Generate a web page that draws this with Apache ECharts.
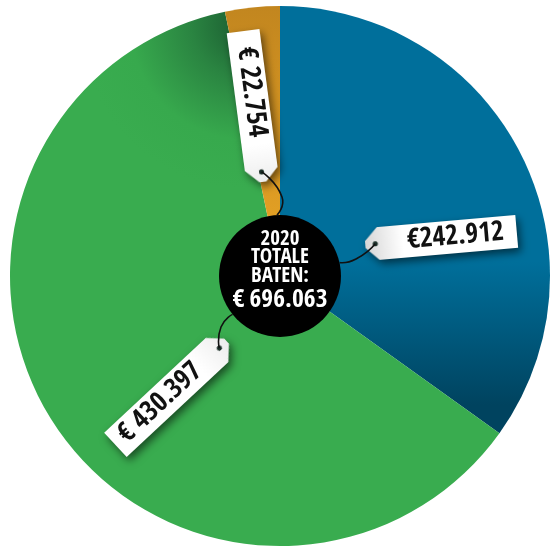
<!DOCTYPE html>
<html>
<head>
<meta charset="utf-8">
<script src="https://cdn.jsdelivr.net/npm/echarts@6/dist/echarts.min.js"></script>
<style>
html,body{margin:0;padding:0;background:#ffffff;}
#chart{width:550px;height:547px;}
</style>
</head>
<body>
<div id="chart"></div>
<script>
// ---- data ----
const categories = ['Baten (blauw)', 'Baten (groen)', 'Baten (oranje)'];
const values = [242912, 430397, 22754];
const tagLabels = ['€242.912', '€ 430.397', '€ 22.754'];
const centerLines = ['2020', 'TOTALE', 'BATEN:'];
const currency = '€';

// ---- layout / style ----
const CX = 280, CY = 276, R = 270, R0 = 61;
const TAG_W = 152, TAG_H = 33, HOLE = 66;
const tagLayout = [
  { dx: 161, dy: -38, rotate: 5, tipRight: false, strA: 12.7, mid: [76, -17] },
  { dx: -109, dy: 117, rotate: 43, tipRight: true, strA: 219, mid: [-59, 51] },
  { dx: -27, dy: -169.5, rotate: -82.5, tipRight: true, strA: 92.8, mid: [2, -79] }
];

// pick a condensed font that is installed
const mctx = document.createElement('canvas').getContext('2d');
function measure(font, text) {
  mctx.font = '10px serif';
  mctx.font = font;
  if (mctx.font === '10px serif') return null;
  return mctx.measureText(text).width;
}
const SAMPLE = '€ 430.397 TOTALE BATEN 2020';
function pickFont() {
  const mono = measure('500 40px monospace', SAMPLE);
  const cands = [
    { st: 'normal', fam: "'Liberation Sans Narrow'" },
    { st: 'normal', fam: "'Noto Sans Condensed'" },
    { st: 'condensed', fam: "'Noto Sans'" },
    { st: 'normal', fam: "'Open Sans Condensed'" },
    { st: 'condensed', fam: "'Open Sans'" },
    { st: 'normal', fam: "'Roboto Condensed'" },
    { st: 'normal', fam: "'DejaVu Sans Condensed'" },
    { st: 'condensed', fam: "'DejaVu Sans'" }
  ];
  for (const c of cands) {
    const w = measure(c.st + ' 500 40px ' + c.fam + ', monospace', SAMPLE);
    if (w == null || Math.abs(w - mono) < 0.5) continue;
    if (c.st !== 'normal') {
      const wn = measure('normal 500 40px ' + c.fam + ', monospace', SAMPLE);
      if (wn == null || w > wn * 0.95) continue;
    }
    return { style: c.st, family: c.fam + ", 'Liberation Sans', sans-serif" };
  }
  return { style: 'normal', family: "'Liberation Sans', sans-serif" };
}
const F = pickFont();
function fitSize(text, weight, target, maxSize) {
  const w = measure(F.style + ' ' + weight + ' 100px ' + F.family, text) || 100;
  return Math.min(maxSize, 100 * target / w);
}

const total = values.reduce((a, b) => a + b, 0);
const totalText = currency + '\u2009' + total.toLocaleString('de-DE');

const tagSize = fitSize(tagLabels[0], 'normal', 97, 28);
const smallSize = fitSize(centerLines[1], '600', 59, 21);
const bigSize = fitSize(totalText, '600', 95, 28);

const fills = [
  { type: 'linear', x: 0, y: 262, x2: 0, y2: 405, global: true,
    colorStops: [{ offset: 0, color: '#006f9b' }, { offset: 1, color: '#00435f' }] },
  { type: 'radial', x: 246, y: 24, r: 165, global: true,
    colorStops: [{ offset: 0, color: '#1a5a30' }, { offset: 0.33, color: '#2a8441' }, { offset: 0.7, color: '#37a94d' }, { offset: 1, color: '#39ac4f' }] },
  { type: 'linear', x: 0, y: 5, x2: 0, y2: 270, global: true,
    colorStops: [{ offset: 0, color: '#c2861f' }, { offset: 1, color: '#e9a525' }] }
];

function makeTag(tipRight) {
  const c = document.createElement('canvas');
  c.width = TAG_W; c.height = TAG_H;
  const g = c.getContext('2d');
  g.save();
  if (!tipRight) { g.translate(TAG_W, 0); g.scale(-1, 1); }
  const W = TAG_W, H = TAG_H;
  g.beginPath();
  g.moveTo(0, 0); g.lineTo(W - 13, 0); g.lineTo(W, 13); g.lineTo(W, 20); g.lineTo(W - 13, H); g.lineTo(0, H);
  g.closePath();
  const gr = g.createLinearGradient(W, 0, W - 38, 0);
  gr.addColorStop(0, tipRight ? '#ededed' : '#d6d6d6');
  gr.addColorStop(1, '#ffffff');
  g.fillStyle = gr; g.fill();
  g.beginPath(); g.arc(W - 10, H / 2, 2.6, 0, Math.PI * 2);
  g.fillStyle = '#1b2f28'; g.fill();
  g.restore();
  return c;
}
const tagRight = makeTag(true), tagLeft = makeTag(false);

const d2r = Math.PI / 180;
function tagGeom(t) {
  const a = t.rotate * d2r;
  const ux = Math.cos(a), uy = -Math.sin(a);
  const cx = CX + t.dx, cy = CY + t.dy;
  const side = t.tipRight ? 1 : -1;
  return {
    cx, cy,
    hole: [cx + side * HOLE * ux, cy + side * HOLE * uy],
    s0: [CX + R0 * Math.cos(t.strA * d2r), CY - R0 * Math.sin(t.strA * d2r)],
    mid: [CX + t.mid[0], CY + t.mid[1]]
  };
}

const chart = echarts.init(document.getElementById('chart'));

chart.setOption({
  animation: false,
  graphic: tagLayout.map(t => {
    const g = tagGeom(t);
    return {
      type: 'polyline', z: 50, silent: true,
      shape: { points: [g.s0, g.mid, g.hole], smooth: 0.6 },
      style: { fill: null, stroke: '#111', lineWidth: 1.6 }
    };
  }),
  series: [
    {
      type: 'pie', center: [CX, CY], radius: [0, R], startAngle: 90, clockwise: true,
      silent: true, label: { show: false }, labelLine: { show: false },
      itemStyle: { borderWidth: 0 },
      data: categories.map((n, i) => ({ name: n, value: values[i], itemStyle: { color: fills[i] } }))
    },
    {
      type: 'pie', center: [CX, CY], radius: [0, R0], silent: true,
      itemStyle: { color: '#000' },
      label: {
        show: true, position: 'center', padding: [0, 0, 7, 0],
        formatter: () => centerLines.map(s => '{s|' + s + '}').join('\n') + '\n{b|' + totalText + '}',
        rich: {
          s: { fontFamily: F.family, fontStyle: F.style, fontSize: smallSize, fontWeight: 600, color: '#fff', lineHeight: 18.5 },
          b: { fontFamily: F.family, fontStyle: F.style, fontSize: bigSize, fontWeight: 600, color: '#fff', lineHeight: 29 }
        }
      },
      labelLine: { show: false },
      data: [{ name: 'Totaal', value: total }]
    },
    {
      type: 'pie', center: [CX, CY], radius: [0, R0], startAngle: 90, clockwise: true,
      silent: true, avoidLabelOverlap: false,
      itemStyle: { color: 'rgba(0,0,0,0)', borderWidth: 0 },
      label: {
        show: true, position: 'outside',
        formatter: p => tagLabels[p.dataIndex],
        fontFamily: F.family, fontStyle: F.style, fontSize: tagSize, fontWeight: 'normal', color: '#111',
        height: TAG_H, width: 95, overflow: 'none',
        shadowBlur: 8, shadowColor: 'rgba(0,0,0,0.55)', shadowOffsetX: 3, shadowOffsetY: 4
      },
      labelLine: { show: false },
      labelLayout: function (p) {
        const t = tagLayout[p.dataIndex];
        const g = tagGeom(t);
        return { x: g.cx, y: g.cy, rotate: t.rotate, align: 'center', verticalAlign: 'middle' };
      },
      data: categories.map((n, i) => ({
        name: n, value: values[i],
        label: {
          backgroundColor: { image: tagLayout[i].tipRight ? tagRight : tagLeft },
          padding: tagLayout[i].tipRight ? [0, 43, 0, 14] : [0, 14, 0, 43]
        }
      }))
    }
  ]
});
</script>
</body>
</html>
